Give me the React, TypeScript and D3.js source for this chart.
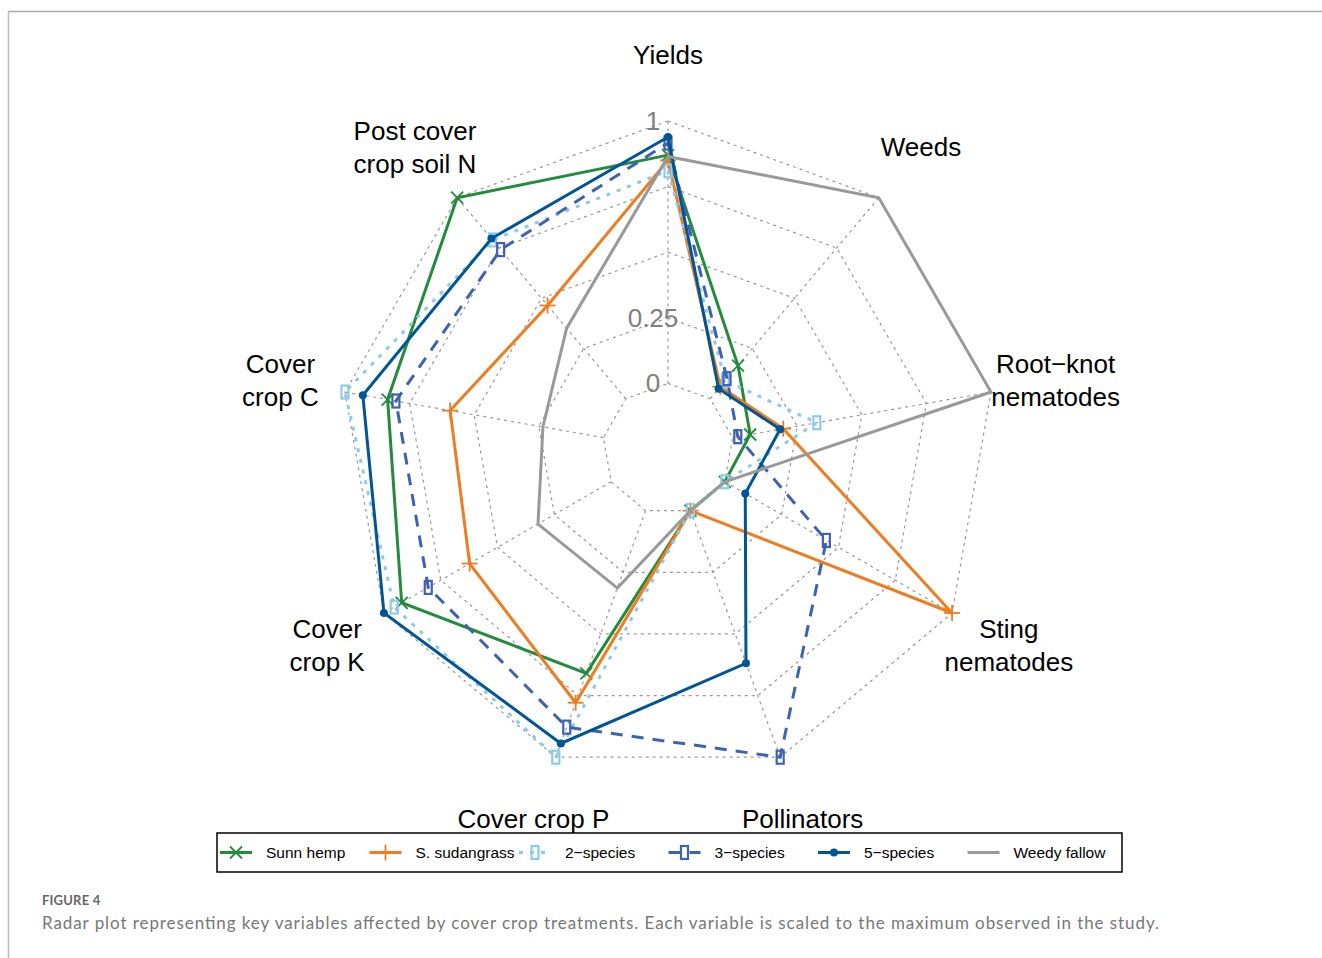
import React from "react";
import * as d3 from "d3";

const axes: string[][] = [
  ["Yields"],
  ["Weeds"],
  ["Root\u2212knot", "nematodes"],
  ["Sting", "nematodes"],
  ["Pollinators"],
  ["Cover crop P"],
  ["Cover", "crop K"],
  ["Cover", "crop C"],
  ["Post cover", "crop soil N"],
];

const seriesNames = ["Sunn hemp", "S. sudangrass", "2\u2212species", "3\u2212species", "5\u2212species", "Weedy fallow"];

const sunnHemp = [0.87, 0.165, 0.068, 0.0, 0.0, 0.66, 0.922, 0.835, 1.0];
const sudangrass = [0.85, 0.06, 0.196, 1.0, 0.0, 0.779, 0.623, 0.593, 0.464];
const twoSpecies = [0.81, 0.09, 0.326, 0.0, 0.0, 1.0, 0.955, 1.0, 0.79];
const threeSpecies = [0.916, 0.1, 0.02, 0.447, 1.0, 0.878, 0.805, 0.803, 0.742];
const fiveSpecies = [0.939, 0.05, 0.184, 0.09, 0.619, 0.944, 1.0, 0.931, 0.797];
const weedyFallow = [0.865, 1.0, 1.0, 0.0, 0.0, 0.314, 0.322, 0.234, 0.351];

const ringValues = [0, 0.25, 0.5, 0.75, 1];
const tickLabels = [
  { v: 0, t: "0" },
  { v: 0.25, t: "0.25" },
  { v: 1, t: "1" },
];

const seriesData = [sunnHemp, sudangrass, twoSpecies, threeSpecies, fiveSpecies, weedyFallow];

const styles = [
  { color: "#228B3C", dash: "none", marker: "x" },
  { color: "#EE7D22", dash: "none", marker: "+" },
  { color: "#8DCAEA", dash: "4,7", marker: "rect" },
  { color: "#3F62B0", dash: "12,9", marker: "rect" },
  { color: "#005596", dash: "none", marker: "dot" },
  { color: "#999999", dash: "none", marker: "none" },
];

const CX = 668;
const CY = 449;
const R = 328;

const rScale = d3.scaleLinear().domain([0, 1]).range([0.2 * R, R]);
const angle = (i: number) => (i * 2 * Math.PI) / axes.length;

const pt = (i: number, r: number): [number, number] => [
  CX + r * Math.sin(angle(i)),
  CY - r * Math.cos(angle(i)),
];

function Marker({ kind, x, y, color }: { kind: string; x: number; y: number; color: string }) {
  if (kind === "x") {
    const s = 6;
    return (
      <g stroke={color} strokeWidth={1.8}>
        <line x1={x - s} y1={y - s} x2={x + s} y2={y + s} />
        <line x1={x - s} y1={y + s} x2={x + s} y2={y - s} />
      </g>
    );
  }
  if (kind === "+") {
    const s = 8;
    return (
      <g stroke={color} strokeWidth={1.8}>
        <line x1={x - s} y1={y} x2={x + s} y2={y} />
        <line x1={x} y1={y - s} x2={x} y2={y + s} />
      </g>
    );
  }
  if (kind === "rect") {
    return <rect x={x - 3.5} y={y - 6.5} width={7} height={13} fill="none" stroke={color} strokeWidth={2.2} />;
  }
  if (kind === "dot") {
    return <circle cx={x} cy={y} r={4} fill={color} />;
  }
  return null;
}

export default function App() {
  const radial = d3
    .lineRadial<number>()
    .angle((_, i) => angle(i))
    .radius((d) => rScale(d))
    .curve(d3.curveLinearClosed);

  const ringLine = d3
    .lineRadial<number>()
    .angle((_, i) => angle(i))
    .radius((d) => d)
    .curve(d3.curveLinearClosed);

  const font = "'Liberation Sans', Arial, sans-serif";
  const legendY = 852.5;

  return (
    <div style={{ position: "absolute", left: 0, top: 0 }}>
      <svg width={1322} height={958} style={{ display: "block", background: "#fff" }}>
        <line x1={8} y1={11.5} x2={1322} y2={11.5} stroke="#aaa" strokeWidth={1.5} />
        <line x1={8.5} y1={11} x2={8.5} y2={958} stroke="#bbb" strokeWidth={1.5} />

        <g transform={`translate(${CX},${CY})`}>
          {ringValues.map((v) => (
            <path
              key={v}
              d={ringLine(axes.map(() => rScale(v))) || ""}
              fill="none"
              stroke="#999"
              strokeWidth={1.2}
              strokeDasharray="3,4"
            />
          ))}
        </g>
        {axes.map((_, i) => {
          const [x1, y1] = pt(i, rScale(0));
          const [x2, y2] = pt(i, rScale(1));
          return <line key={i} x1={x1} y1={y1} x2={x2} y2={y2} stroke="#999" strokeWidth={1.2} strokeDasharray="3,4" />;
        })}

        {tickLabels.map((t) => (
          <text
            key={t.t}
            x={CX - 15}
            y={CY - rScale(t.v)}
            textAnchor="middle"
            dominantBaseline="central"
            fontFamily={font}
            fontSize={26}
            fill="#808080"
          >
            {t.t}
          </text>
        ))}

        {seriesData.map((s, si) => (
          <g key={si}>
            <path
              transform={`translate(${CX},${CY})`}
              d={radial(s) || ""}
              fill="none"
              stroke={styles[si].color}
              strokeWidth={3}
              strokeDasharray={styles[si].dash}
              strokeLinejoin="miter"
            />
            {s.map((v, i) => {
              const [x, y] = pt(i, rScale(v));
              return <Marker key={i} kind={styles[si].marker} x={x} y={y} color={styles[si].color} />;
            })}
          </g>
        ))}

        {axes.map((lines, i) => {
          const [x, y] = pt(i, 1.2 * R);
          const lh = 33;
          const y0 = y - ((lines.length - 1) * lh) / 2;
          return (
            <text key={i} textAnchor="middle" fontFamily={font} fontSize={26} fill="#000">
              {lines.map((l, j) => (
                <tspan key={j} x={x} y={y0 + j * lh} dominantBaseline="central">
                  {l}
                </tspan>
              ))}
            </text>
          );
        })}

        <rect x={217} y={833} width={905} height={39} fill="#fff" stroke="#000" strokeWidth={1.5} />
        {seriesNames.map((name, i) => {
          const x0 = 220 + i * 149.5;
          const st = styles[i];
          return (
            <g key={name}>
              <line
                x1={x0}
                y1={legendY}
                x2={x0 + 32}
                y2={legendY}
                stroke={st.color}
                strokeWidth={3}
                strokeDasharray={st.dash}
              />
              <Marker kind={st.marker} x={x0 + 16} y={legendY} color={st.color} />
              <text x={x0 + 46} y={legendY} dominantBaseline="central" fontFamily={font} fontSize={15.5} fill="#000">
                {name}
              </text>
            </g>
          );
        })}

        <text x={42} y={905} fontFamily="Lato, 'Open Sans', sans-serif" fontSize={13} fontWeight={700} fill="#666" letterSpacing={0.2}>
          FIGURE 4
        </text>
        <text
          x={42}
          y={929}
          fontFamily="Lato, 'Open Sans', sans-serif"
          fontSize={17}
          fill="#777"
          textLength={1117}
          lengthAdjust="spacing"
        >
          Radar plot representing key variables affected by cover crop treatments. Each variable is scaled to the maximum observed in the study.
        </text>
      </svg>
    </div>
  );
}
